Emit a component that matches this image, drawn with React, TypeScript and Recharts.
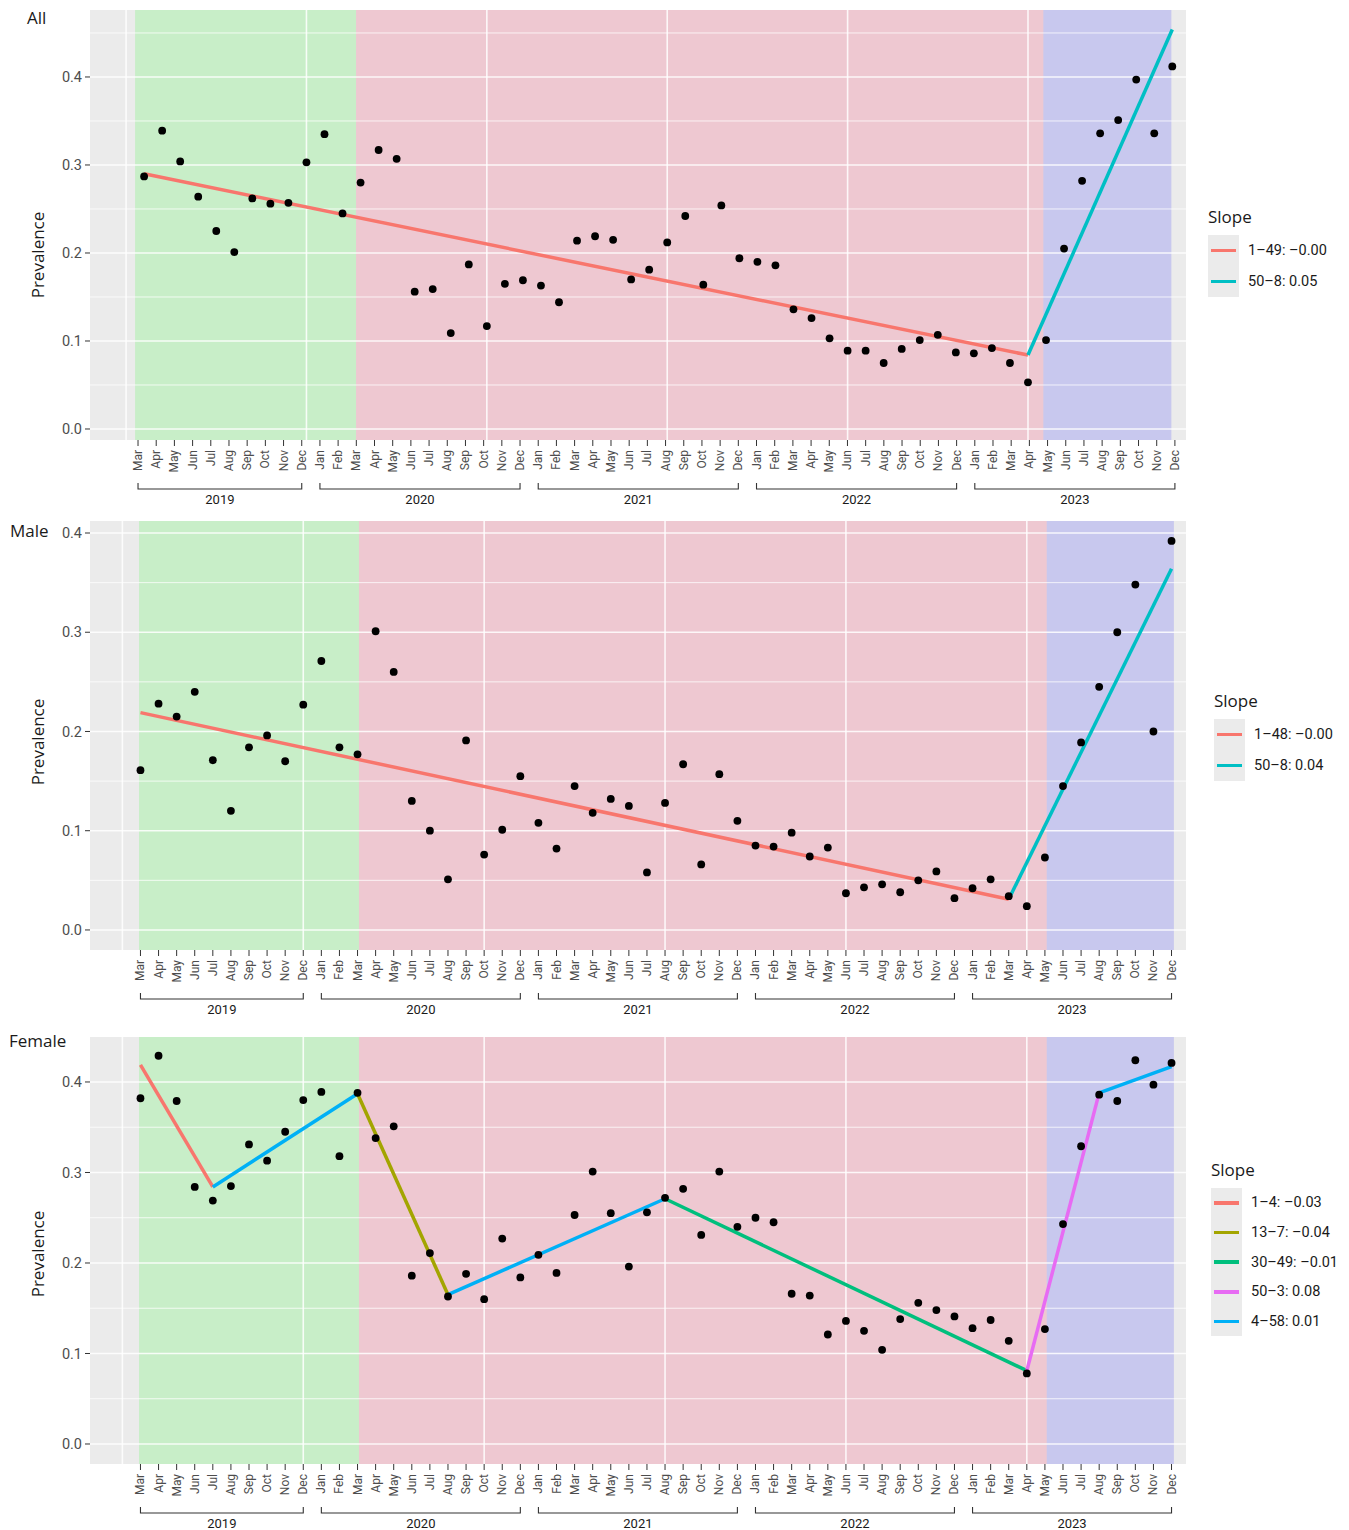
import React from 'react'
import { ComposedChart, Scatter, Line, XAxis, YAxis, CartesianGrid, ReferenceArea, ReferenceLine, Legend } from 'recharts'

// months run Mar 2019 .. Dec 2023 (58 points, index 1..58)
const monthNames = ['Jan', 'Feb', 'Mar', 'Apr', 'May', 'Jun', 'Jul', 'Aug', 'Sep', 'Oct', 'Nov', 'Dec']
const years = ['2019', '2020', '2021', '2022', '2023']
const yearStart = [1, 11, 23, 35, 47]
const yearEnd = [10, 22, 34, 46, 58]
const monthLabels = years.flatMap((_, k) => monthNames.slice(k === 0 ? 2 : 0))
const monthIdx = monthLabels.map((_, k) => k + 1)

const allPrev = [
  0.287, 0.339, 0.304, 0.264, 0.225, 0.201, 0.262, 0.256, 0.257, 0.303,
  0.335, 0.245, 0.28, 0.317, 0.307, 0.156, 0.159, 0.109, 0.187, 0.117, 0.165, 0.169,
  0.163, 0.144, 0.214, 0.219, 0.215, 0.17, 0.181, 0.212, 0.242, 0.164, 0.254, 0.194,
  0.19, 0.186, 0.136, 0.126, 0.103, 0.089, 0.089, 0.075, 0.091, 0.101, 0.107, 0.087,
  0.086, 0.092, 0.075, 0.053, 0.101, 0.205, 0.282, 0.336, 0.351, 0.397, 0.336, 0.412,
]
const malePrev = [
  0.161, 0.228, 0.215, 0.24, 0.171, 0.12, 0.184, 0.196, 0.17, 0.227,
  0.271, 0.184, 0.177, 0.301, 0.26, 0.13, 0.1, 0.051, 0.191, 0.076, 0.101, 0.155,
  0.108, 0.082, 0.145, 0.118, 0.132, 0.125, 0.058, 0.128, 0.167, 0.066, 0.157, 0.11,
  0.085, 0.084, 0.098, 0.074, 0.083, 0.037, 0.043, 0.046, 0.038, 0.05, 0.059, 0.032,
  0.042, 0.051, 0.034, 0.024, 0.073, 0.145, 0.189, 0.245, 0.3, 0.348, 0.2, 0.392,
]
const femalePrev = [
  0.382, 0.429, 0.379, 0.284, 0.269, 0.285, 0.331, 0.313, 0.345, 0.38,
  0.389, 0.318, 0.388, 0.338, 0.351, 0.186, 0.211, 0.163, 0.188, 0.16, 0.227, 0.184,
  0.209, 0.189, 0.253, 0.301, 0.255, 0.196, 0.256, 0.272, 0.282, 0.231, 0.301, 0.24,
  0.25, 0.245, 0.166, 0.164, 0.121, 0.136, 0.125, 0.104, 0.138, 0.156, 0.148, 0.141,
  0.128, 0.137, 0.114, 0.078, 0.127, 0.243, 0.329, 0.386, 0.379, 0.424, 0.397, 0.421,
]

// fitted segments: slope group, start/end index, start/end value
const allSegs = [
  { g: 0, i: [1, 50], v: [0.29, 0.084] },
  { g: 1, i: [50, 58], v: [0.084, 0.454] },
]
const maleSegs = [
  { g: 0, i: [1, 49], v: [0.219, 0.031] },
  { g: 1, i: [49, 58], v: [0.031, 0.364] },
]
const femaleSegs = [
  { g: 0, i: [1, 5], v: [0.419, 0.284] },
  { g: 4, i: [5, 13], v: [0.284, 0.387] },
  { g: 1, i: [13, 18], v: [0.387, 0.165] },
  { g: 4, i: [18, 30], v: [0.165, 0.271] },
  { g: 2, i: [30, 50], v: [0.271, 0.081] },
  { g: 3, i: [50, 54], v: [0.081, 0.388] },
  { g: 4, i: [54, 58], v: [0.388, 0.417] },
]

const allLegend = ['1–49: –0.00', '50–8: 0.05']
const maleLegend = ['1–48: –0.00', '50–8: 0.04']
const femaleLegend = ['1–4: –0.03', '13–7: –0.04', '30–49: –0.01', '50–3: 0.08', '4–58: 0.01']

// shaded periods (index units)
const allPeriods = [[0.5, 12.75], [12.75, 50.85], [50.85, 57.95]]
const sexPeriods = [[0.92, 13.08], [13.08, 51.1], [51.1, 58.13]]

const yMajor = [0, 0.1, 0.2, 0.3, 0.4]
const yMinorAll = [0.05, 0.15, 0.25, 0.35, 0.45]
const xMajor = [0, 10, 20, 30, 40, 50]

const twoColors = ['#F8766D', '#00BFC4']
const fiveColors = ['#F8766D', '#A3A500', '#00BF7D', '#E76BF3', '#00B0F6']
const periodColors = ['rgb(0,255,0)', 'rgb(255,0,60)', 'rgb(0,0,255)']

const FONT = '"Open Sans", sans-serif'
const TICKFONT = 'Roboto, sans-serif'
const W = 1349
const PLOT_LEFT = 90
const PLOT_RIGHT_MARGIN = 163
const PLOT_W = W - PLOT_LEFT - PLOT_RIGHT_MARGIN

function MonthTick({ x, y, payload }: any) {
  return (
    <text
      transform={`translate(${x},${y + 1}) rotate(-90)`}
      textAnchor="end"
      dominantBaseline="central"
      fontSize={12}
      fill="#4D4D4D"
      fontFamily={TICKFONT}
    >
      {monthLabels[payload.value - 1]}
    </text>
  )
}

function YearTick({ x, y, payload, ppu }: any) {
  const k = years.findIndex((_, j) => (yearStart[j] + yearEnd[j]) / 2 === payload.value)
  if (k < 0) return null
  const half = ((yearEnd[k] - yearStart[k]) / 2) * ppu
  return (
    <g>
      <path d={`M${x - half},${y + 2}V${y + 8}H${x + half}V${y + 2}`} stroke="#333" strokeWidth={1.1} fill="none" />
      <text x={x} y={y + 18} textAnchor="middle" dominantBaseline="central" fontSize={13} fill="#1a1a1a" fontFamily={TICKFONT}>
        {years[k]}
      </text>
    </g>
  )
}

function SlopeLegend({ labels, colors, rowH }: any) {
  return (
    <div style={{ fontFamily: FONT, color: '#1a1a1a' }}>
      <div style={{ fontSize: 17, height: 24, lineHeight: '24px', marginBottom: 6 }}>Slope</div>
      {labels.map((lab: string, k: number) => (
        <div key={lab} style={{ display: 'flex', alignItems: 'center', height: rowH }}>
          <div style={{ width: 31, height: rowH, background: '#EBEBEB', display: 'flex', alignItems: 'center', justifyContent: 'center' }}>
            <div style={{ width: 25, height: 3.5, background: colors[k] }} />
          </div>
          <span style={{ fontSize: 14.5, marginLeft: 9, whiteSpace: 'nowrap', fontFamily: TICKFONT }}>{lab}</span>
        </div>
      ))}
    </div>
  )
}

function YLabel({ cy }: any) {
  return (
    <text x={37} y={cy} transform={`rotate(-90 37 ${cy})`} textAnchor="middle" dominantBaseline="central" fontSize={17} fill="#1a1a1a" fontFamily={FONT}>
      Prevalence
    </text>
  )
}

function Panel({ top, height, title, titleX, titleCy, prev, segs, colors, legend, legendPos, rowH, periods, xDomain, monthDomain, yDomain, yLabelCy }: any) {
  const pts = prev.map((v: number, k: number) => ({ i: monthIdx[k], v }))
  const ppu = PLOT_W / (monthDomain[1] - monthDomain[0])
  const yMinor = yMinorAll.filter((v) => v < yDomain[1] - 0.002)
  const yearTicks = years.map((_, k) => (yearStart[k] + yearEnd[k]) / 2)
  return (
    <div style={{ position: 'absolute', left: 0, top }}>
      <div style={{ position: 'absolute', left: titleX, top: titleCy - 12, height: 24, lineHeight: '24px', fontSize: 17, fontFamily: FONT, color: '#1a1a1a', zIndex: 2 }}>
        {title}
      </div>
      <ComposedChart width={W} height={height} margin={{ top: 10, right: PLOT_RIGHT_MARGIN, bottom: 0, left: 0 }}>
        <CartesianGrid fill="#EBEBEB" stroke="none" horizontal={false} vertical={false} />
        {periods.map((p: number[], k: number) => (
          <ReferenceArea key={'p' + k} x1={p[0]} x2={p[1]} fill={periodColors[k]} fillOpacity={0.15} stroke="none" ifOverflow="hidden" />
        ))}
        {yMinor.map((v) => (
          <ReferenceLine key={'n' + v} y={v} stroke="#FFFFFF" strokeOpacity={0.85} strokeWidth={0.9} />
        ))}
        {yMajor.map((v) => (
          <ReferenceLine key={'y' + v} y={v} stroke="#FFFFFF" strokeOpacity={0.85} strokeWidth={1.6} />
        ))}
        {xMajor.map((v) => (
          <ReferenceLine key={'x' + v} x={v} stroke="#FFFFFF" strokeOpacity={0.85} strokeWidth={1.6} />
        ))}
        {/* data axis (hidden) */}
        <XAxis dataKey="i" type="number" domain={xDomain} allowDataOverflow hide height={0} />
        <XAxis
          xAxisId="m"
          dataKey="i"
          type="number"
          domain={monthDomain}
          allowDataOverflow
          ticks={monthIdx}
          interval={0}
          height={41}
          axisLine={false}
          tickLine={{ stroke: '#333' }}
          tickSize={6}
          tickMargin={3}
          tick={<MonthTick />}
        />
        <XAxis
          xAxisId="yr"
          dataKey="i"
          type="number"
          domain={monthDomain}
          allowDataOverflow
          ticks={yearTicks}
          interval={0}
          height={32}
          axisLine={false}
          tickLine={false}
          tickSize={0}
          tickMargin={0}
          tick={(p: any) => <YearTick {...p} ppu={ppu} />}
        />
        <YAxis
          type="number"
          domain={yDomain}
          allowDataOverflow
          ticks={yMajor}
          interval={0}
          width={PLOT_LEFT}
          axisLine={false}
          tickLine={{ stroke: '#333' }}
          tickSize={5}
          tickMargin={3}
          tickFormatter={(v: number) => v.toFixed(1)}
          tick={{ fontSize: 14.5, fill: '#4D4D4D', fontFamily: TICKFONT }}
          label={<YLabel cy={yLabelCy} />}
        />
        {segs.map((s: any, k: number) => (
          <Line
            key={k}
            data={[{ i: s.i[0], v: s.v[0] }, { i: s.i[1], v: s.v[1] }]}
            dataKey="v"
            type="linear"
            stroke={colors[s.g]}
            strokeWidth={3.5}
            dot={false}
            activeDot={false}
            isAnimationActive={false}
          />
        ))}
        <Scatter
          data={pts}
          dataKey="v"
          isAnimationActive={false}
          shape={(p: any) => <circle cx={p.cx} cy={p.cy} r={3.9} fill="#000" />}
        />
        <Legend
          layout="vertical"
          align="center"
          verticalAlign="middle"
          wrapperStyle={{ left: legendPos[0], top: legendPos[1], width: 150 }}
          content={() => <SlopeLegend labels={legend} colors={colors} rowH={rowH} />}
        />
      </ComposedChart>
    </div>
  )
}

export default function App() {
  return (
    <div style={{ position: 'absolute', left: 0, top: 0, width: W, height: 1530, overflow: 'hidden', background: '#fff' }}>
      <Panel
        top={0}
        height={513}
        title="All"
        titleX={27}
        titleCy={18}
        prev={allPrev}
        segs={allSegs}
        colors={twoColors}
        legend={allLegend}
        legendPos={[1208, 205]}
        rowH={31}
        periods={allPeriods}
        xDomain={[-2.0, 58.76]}
        monthDomain={[-1.64, 58.61]}
        yDomain={[-0.0125, 0.4761]}
        yLabelCy={255}
      />
      <Panel
        top={511}
        height={512}
        title="Male"
        titleX={10}
        titleCy={20}
        prev={malePrev}
        segs={maleSegs}
        colors={twoColors}
        legend={maleLegend}
        legendPos={[1214, 178]}
        rowH={31}
        periods={sexPeriods}
        xDomain={[-1.79, 58.8]}
        monthDomain={[-1.79, 58.8]}
        yDomain={[-0.0202, 0.4121]}
        yLabelCy={231}
      />
      <Panel
        top={1027}
        height={510}
        title="Female"
        titleX={9}
        titleCy={14}
        prev={femalePrev}
        segs={femaleSegs}
        colors={fiveColors}
        legend={femaleLegend}
        legendPos={[1211, 131]}
        rowH={29.7}
        periods={sexPeriods}
        xDomain={[-1.79, 58.8]}
        monthDomain={[-1.79, 58.8]}
        yDomain={[-0.0221, 0.4497]}
        yLabelCy={227}
      />
    </div>
  )
}
